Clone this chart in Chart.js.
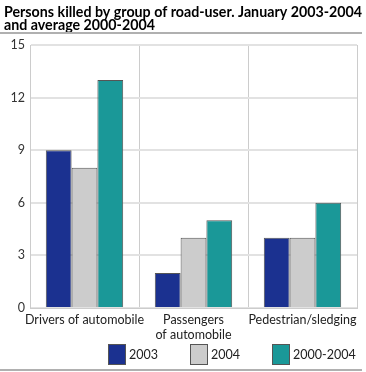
<!DOCTYPE html>
<html><head><meta charset="utf-8">
<script src="https://cdn.jsdelivr.net/npm/chart.js@4/dist/chart.umd.min.js"></script>
<style>html,body{margin:0;padding:0;background:#fff}#wrap{width:366px;height:372px}</style>
</head><body><div id="wrap"><canvas id="c" width="366" height="372"></canvas></div>
<script>
const titleLines = ["Persons killed by group of road-user. January 2003-2004", "and average 2000-2004"];
const categories = ["Drivers of automobile", ["Passengers", "of automobile"], "Pedestrian/sledging"];
const seriesNames = ["2003", "2004", "2000-2004"];
const values2003 = [9, 2, 4];
const values2004 = [8, 4, 4];
const valuesAvg = [13, 5, 6];
const yTicks = [0, 3, 6, 9, 12, 15];
const colors = ["#1b3190", "#cccccc", "#1a9898"];
const FONT = "Lato, 'Open Sans', sans-serif";

const decor = {
  id: 'decor',
  afterDraw(chart) {
    const ctx = chart.ctx;
    ctx.save();
    ctx.fillStyle = '#000';
    ctx.font = "bold 14.5px " + FONT;
    ctx.textBaseline = 'alphabetic';
    ctx.textAlign = 'left';
    const w1 = ctx.measureText(titleLines[0]).width;
    const scale = Math.min(1, 358 / w1);
    ctx.save();
    ctx.translate(4, 0);
    ctx.scale(scale, 1);
    ctx.fillText(titleLines[0], 0, 16.5);
    ctx.fillText(titleLines[1], 0, 29.5);
    ctx.restore();
    ctx.fillStyle = '#b0b0b0';
    ctx.fillRect(0, 32, 362, 2);
    ctx.fillRect(0, 369, 362, 2);
    // legend
    const xs = [108, 190, 272];
    ctx.font = "12.5px " + FONT;
    ctx.textBaseline = 'middle';
    chart.data.datasets.forEach((ds, i) => {
      ctx.fillStyle = ds.backgroundColor;
      ctx.fillRect(xs[i], 344, 18, 21);
      ctx.strokeStyle = '#555';
      ctx.lineWidth = 1;
      ctx.strokeRect(xs[i] + 0.5, 344.5, 17, 20);
      ctx.fillStyle = '#222';
      ctx.fillText(ds.label, xs[i] + 21, 355);
    });
    ctx.restore();
  }
};

new Chart(document.getElementById('c'), {
  type: 'bar',
  data: {
    labels: categories,
    datasets: [
      { label: seriesNames[0], data: values2003, backgroundColor: colors[0] },
      { label: seriesNames[1], data: values2004, backgroundColor: colors[1] },
      { label: seriesNames[2], data: valuesAvg, backgroundColor: colors[2] }
    ].map(d => Object.assign(d, { borderColor: '#555', borderWidth: 1, categoryPercentage: 0.71, barPercentage: 1.0 }))
  },
  options: {
    responsive: false,
    animation: false,
    devicePixelRatio: 1,
    layout: { padding: { left: 0, right: 9, top: 45, bottom: 0 } },
    plugins: { legend: { display: false }, title: { display: false }, tooltip: { enabled: false } },
    scales: {
      x: {
        grid: { color: '#cccccc', lineWidth: 1, drawTicks: false, offset: true },
        border: { color: '#cccccc' },
        ticks: { color: '#222', font: { family: FONT, size: 12.5 }, padding: 4, maxRotation: 0, autoSkip: false, lineHeight: 1.15 },
        afterFit(s) { s.height = 64; }
      },
      y: {
        min: 0, max: 15,
        afterBuildTicks(s) { s.ticks = yTicks.map(v => ({ value: v })); },
        grid: { color: '#e2e2e2', lineWidth: 2, drawTicks: false },
        border: { color: '#cccccc', width: 1 },
        ticks: { color: '#333', font: { family: FONT, size: 12.5 }, padding: 5 },
        afterFit(s) { s.width = 30; }
      }
    }
  },
  plugins: [decor]
});
</script></body></html>
